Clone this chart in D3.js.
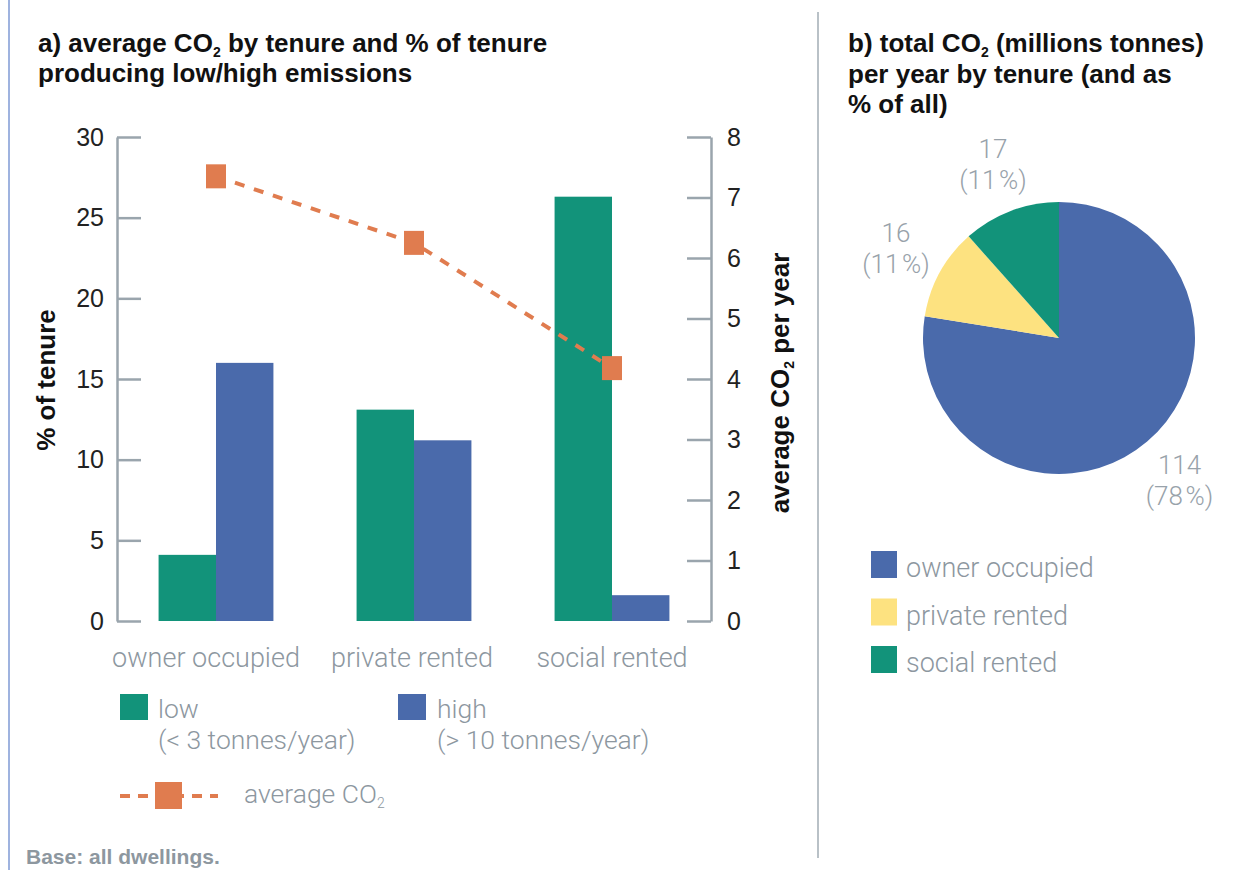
<!DOCTYPE html>
<html>
<head>
<meta charset="utf-8">
<script src="https://cdn.jsdelivr.net/npm/d3@7"></script>
<style>
  body { margin: 0; background: #fff; }
  svg { display: block; font-family: Roboto, "Liberation Sans", sans-serif; }
  .tick text { font-size: 25px; font-weight: 300; fill: #222; }
  .tick line, .domain { stroke: #9aa5ad; stroke-width: 2.5; }
  .bold { font-family: "Liberation Sans", Arial, sans-serif; font-weight: 700; }
</style>
</head>
<body>
<script>
const tenures = ['owner occupied', 'private rented', 'social rented'];
const lowPct = [4.1, 13.1, 26.3];
const highPct = [16.0, 11.2, 1.6];
const avgCO2 = [7.35, 6.25, 4.18];
const leftTicks = [0, 5, 10, 15, 20, 25, 30];
const rightTicks = [0, 1, 2, 3, 4, 5, 6, 7, 8];
const totals = [114, 16, 17];
const totalShares = ['78', '11', '11'];

const green = '#12937a';
const blue = '#4a6aab';
const orange = '#e07c4f';
const yellow = '#fde280';
const grey = '#8d979f';

const width = 1241;
const height = 870;

const svg = d3.select('body')
  .append('svg')
    .attr('width', width)
    .attr('height', height);

// frame lines
svg.append('line')
  .attr('x1', 9).attr('x2', 9).attr('y1', 0).attr('y2', height)
  .attr('stroke', '#7f9ad4').attr('stroke-width', 1.5);
svg.append('line')
  .attr('x1', 818).attr('x2', 818).attr('y1', 12).attr('y2', 858)
  .attr('stroke', '#b9c1c7').attr('stroke-width', 2);

// text helper for CO2 with subscript
function co2Text(sel, before, after, subSize) {
  sel.append('tspan').text(before + 'CO');
  sel.append('tspan').attr('font-size', subSize).attr('dy', subSize * 0.35).text('2');
  sel.append('tspan').attr('dy', -subSize * 0.35).text(after);
}

function boldText(xp, yp) {
  return svg.append('text').attr('class', 'bold')
    .attr('x', xp).attr('y', yp)
    .attr('font-size', 26).attr('fill', '#111');
}

// titles
co2Text(boldText(38, 52), 'a) average ', ' by tenure and % of tenure', 14);
boldText(38, 82).text('producing low/high emissions');

co2Text(boldText(848, 52), 'b) total ', ' (millions tonnes)', 14);
boldText(848, 83).text('per year by tenure (and as');
boldText(848, 113).text('% of all)');

// ---- panel a ----
const x0 = 117, x1 = 711, yTop = 137, yBot = 621;

const x = d3.scaleBand()
  .domain(tenures)
  .range([x0, x1])
  .paddingInner(0.42)
  .paddingOuter(0.21);

const xSub = d3.scaleBand()
  .domain(['low', 'high'])
  .range([0, x.bandwidth()]);

const yL = d3.scaleLinear().domain([0, 30]).range([yBot, yTop]);
const yR = d3.scaleLinear().domain([0, 8]).range([yBot, yTop]);

svg.append('g')
  .attr('transform', `translate(${x0},0)`)
  .call(d3.axisLeft(yL).tickValues(leftTicks).tickSize(-24).tickSizeOuter(0).tickPadding(13))
  .call(g => g.select('.domain').attr('stroke', '#9aa5ad'));

svg.append('g')
  .attr('transform', `translate(${x1},0)`)
  .call(d3.axisRight(yR).tickValues(rightTicks).tickSize(-24).tickSizeOuter(0).tickPadding(16))
  .call(g => g.select('.domain').attr('stroke', '#9aa5ad'));

const bars = svg.append('g');
bars.selectAll('rect.low')
  .data(tenures)
  .join('rect')
    .attr('class', 'low')
    .attr('x', d => x(d) + xSub('low'))
    .attr('width', xSub.bandwidth())
    .attr('y', (d, i) => yL(lowPct[i]))
    .attr('height', (d, i) => yL(0) - yL(lowPct[i]))
    .attr('fill', green);
bars.selectAll('rect.high')
  .data(tenures)
  .join('rect')
    .attr('class', 'high')
    .attr('x', d => x(d) + xSub('high'))
    .attr('width', xSub.bandwidth())
    .attr('y', (d, i) => yL(highPct[i]))
    .attr('height', (d, i) => yL(0) - yL(highPct[i]))
    .attr('fill', blue);

const line = d3.line()
  .x((d, i) => x(tenures[i]) + x.bandwidth() / 2)
  .y(d => yR(d));

svg.append('path')
  .datum(avgCO2)
  .attr('d', line)
  .attr('fill', 'none')
  .attr('stroke', orange)
  .attr('stroke-width', 4)
  .attr('stroke-dasharray', '10,10');

svg.append('g').selectAll('rect')
  .data(avgCO2)
  .join('rect')
    .attr('x', (d, i) => x(tenures[i]) + x.bandwidth() / 2 - 10)
    .attr('y', d => yR(d) - 12)
    .attr('width', 20)
    .attr('height', 24)
    .attr('fill', orange);

// category labels
const labelShift = [-10, -2, 0];
svg.append('g').selectAll('text')
  .data(tenures)
  .join('text')
    .attr('x', (d, i) => x(d) + x.bandwidth() / 2 + labelShift[i])
    .attr('y', 667)
    .attr('text-anchor', 'middle')
    .attr('font-size', 27)
    .attr('font-weight', 300)
    .attr('fill', grey)
    .text(d => d);

// axis titles
svg.append('text').attr('class', 'bold')
  .attr('transform', 'translate(55,380) rotate(-90)')
  .attr('text-anchor', 'middle')
  .attr('font-size', 26).attr('fill', '#111')
  .text('% of tenure');

const tR = svg.append('text').attr('class', 'bold')
  .attr('transform', 'translate(789,383) rotate(-90)')
  .attr('text-anchor', 'middle')
  .attr('font-size', 26).attr('fill', '#111');
co2Text(tR, 'average ', ' per year', 14);

// legend a
function greyText(g, xp, yp, s) {
  return g.append('text').attr('x', xp).attr('y', yp)
    .attr('font-size', 26.5).attr('font-weight', 300).attr('fill', grey).text(s);
}
const legA = svg.append('g');
legA.append('rect').attr('x', 120).attr('y', 694).attr('width', 28).attr('height', 26).attr('fill', green);
greyText(legA, 158, 718, 'low');
greyText(legA, 158, 749, '(< 3 tonnes/year)');
legA.append('rect').attr('x', 398).attr('y', 694).attr('width', 28).attr('height', 26).attr('fill', blue);
greyText(legA, 437, 718, 'high');
greyText(legA, 437, 749, '(> 10 tonnes/year)');
legA.append('line').attr('x1', 120).attr('x2', 218).attr('y1', 796).attr('y2', 796)
  .attr('stroke', orange).attr('stroke-width', 4).attr('stroke-dasharray', '10,8');
legA.append('rect').attr('x', 155).attr('y', 782).attr('width', 27).attr('height', 27).attr('fill', orange);
co2Text(greyText(legA, 244, 803, ''), 'average ', '', 14);

svg.append('text').attr('class', 'bold')
  .attr('x', 26).attr('y', 864)
  .attr('font-size', 21).attr('fill', '#8d979f')
  .text('Base: all dwellings.');

// ---- panel b ----
const cx = 1059, cy = 338, r = 136;
const pieColors = [blue, yellow, green];

const pie = d3.pie().sort(null).value(d => d);
const arcs = pie(totals);
const arc = d3.arc().innerRadius(0).outerRadius(r);
const labelArc = d3.arc().innerRadius(186).outerRadius(186);

const pg = svg.append('g').attr('transform', `translate(${cx},${cy})`);
pg.selectAll('path')
  .data(arcs)
  .join('path')
    .attr('d', arc)
    .attr('fill', (d, i) => pieColors[i]);

const lbl = pg.selectAll('text')
  .data(arcs)
  .join('text')
    .attr('transform', d => `translate(${labelArc.centroid(d)})`)
    .attr('text-anchor', 'middle')
    .attr('font-size', 26)
    .attr('font-weight', 300)
    .attr('fill', '#98a2aa');
lbl.append('tspan').attr('x', 0).attr('dy', -6).text(d => d.data);
lbl.append('tspan').attr('x', 0).attr('dy', 31).text((d, i) => `(${totalShares[i]}\u200a%)`);

// legend b
const legB = svg.append('g').selectAll('g')
  .data(tenures)
  .join('g')
    .attr('transform', (d, i) => `translate(871,${551 + i * 47.5})`);
legB.append('rect').attr('width', 26).attr('height', 27).attr('fill', (d, i) => pieColors[i]);
legB.append('text').attr('x', 35).attr('y', 26)
  .attr('font-size', 27).attr('font-weight', 300).attr('fill', grey)
  .text(d => d);
</script>
</body>
</html>
